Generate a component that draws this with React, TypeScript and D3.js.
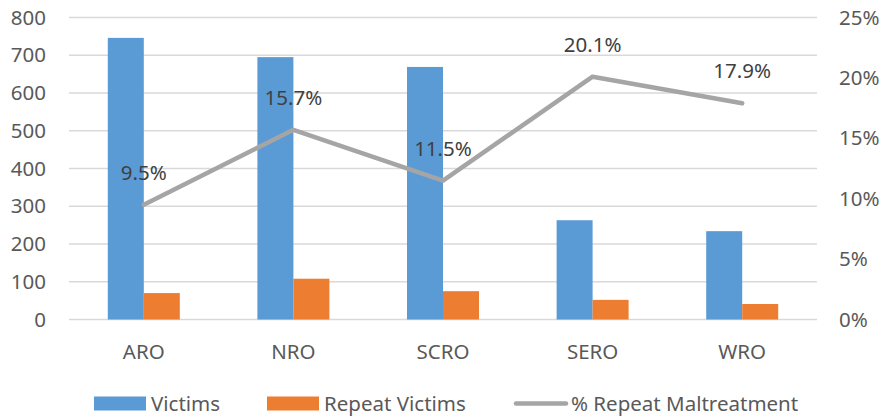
import * as React from "react";
import * as d3 from "d3";

const regions = ["ARO", "NRO", "SCRO", "SERO", "WRO"];
const victims = [746, 695, 669, 263, 234];
const repeatVictims = [70, 108, 75, 52, 41];
const repeatPct = [0.095, 0.157, 0.115, 0.201, 0.179];
const leftTicks = [0, 100, 200, 300, 400, 500, 600, 700, 800];
const rightTicks = [0, 0.05, 0.1, 0.15, 0.2, 0.25];

const W = 884;
const H = 417;
const FONT = "'Noto Sans', sans-serif";
const FS = "20.5px";

function drawChart(svgRef: React.RefObject<SVGSVGElement>) {
  const plot = { left: 69, right: 817, top: 17.5, bottom: 319.5 };

  const svg = d3.select(svgRef.current).attr("width", W).attr("height", H);
  svg.selectAll("*").remove();

  const x = d3.scaleBand().domain(regions).range([plot.left, plot.right]);
  const y = d3.scaleLinear().domain([0, 800]).range([plot.bottom, plot.top]);
  const y2 = d3.scaleLinear().domain([0, 0.25]).range([plot.bottom, plot.top]);
  const barW = 36;

  // gridlines
  svg.append("g")
    .selectAll("line")
    .data(leftTicks)
    .enter()
    .append("line")
    .attr("x1", plot.left)
    .attr("x2", plot.right)
    .attr("y1", (d) => y(d))
    .attr("y2", (d) => y(d))
    .attr("stroke", "#D9D9D9")
    .attr("stroke-width", 1.3);

  // left axis labels
  svg.append("g")
    .selectAll("text")
    .data(leftTicks)
    .enter()
    .append("text")
    .text((d) => d)
    .attr("x", 46)
    .attr("y", (d) => y(d))
    .attr("dy", "0.35em")
    .attr("text-anchor", "end")
    .attr("fill", "#595959")
    .style("font-family", FONT)
    .style("font-size", FS);

  // right axis labels
  svg.append("g")
    .selectAll("text")
    .data(rightTicks)
    .enter()
    .append("text")
    .text((d) => d3.format(".0%")(d))
    .attr("x", 839)
    .attr("y", (d) => y2(d))
    .attr("dy", "0.35em")
    .attr("text-anchor", "start")
    .attr("fill", "#595959")
    .style("font-family", FONT)
    .style("font-size", FS);

  // bars
  svg.append("g")
    .selectAll("rect")
    .data(regions)
    .enter()
    .append("rect")
    .attr("x", (d) => x(d)! + x.bandwidth() / 2 - barW)
    .attr("y", (d, i) => y(victims[i]))
    .attr("width", barW)
    .attr("height", (d, i) => plot.bottom - y(victims[i]))
    .attr("fill", "#5B9BD5");

  svg.append("g")
    .selectAll("rect")
    .data(regions)
    .enter()
    .append("rect")
    .attr("x", (d) => x(d)! + x.bandwidth() / 2)
    .attr("y", (d, i) => y(repeatVictims[i]))
    .attr("width", barW)
    .attr("height", (d, i) => plot.bottom - y(repeatVictims[i]))
    .attr("fill", "#ED7D31");

  // line
  const line = d3
    .line<number>()
    .x((d, i) => x(regions[i])! + x.bandwidth() / 2)
    .y((d) => y2(d));

  svg.append("path")
    .datum(repeatPct)
    .attr("d", line)
    .attr("fill", "none")
    .attr("stroke", "#A5A5A5")
    .attr("stroke-width", 4.5)
    .attr("stroke-linecap", "round")
    .attr("stroke-linejoin", "round");

  svg.append("g")
    .selectAll("text")
    .data(repeatPct)
    .enter()
    .append("text")
    .text((d) => d3.format(".1%")(d))
    .attr("x", (d, i) => x(regions[i])! + x.bandwidth() / 2)
    .attr("y", (d) => y2(d) - 32)
    .attr("dy", "0.35em")
    .attr("text-anchor", "middle")
    .attr("fill", "#404040")
    .style("font-family", FONT)
    .style("font-size", FS);

  // category labels
  svg.append("g")
    .selectAll("text")
    .data(regions)
    .enter()
    .append("text")
    .text((d) => d)
    .attr("x", (d) => x(d)! + x.bandwidth() / 2)
    .attr("y", 352)
    .attr("dy", "0.35em")
    .attr("text-anchor", "middle")
    .attr("fill", "#595959")
    .style("font-family", FONT)
    .style("font-size", FS);

  // legend
  const legend = svg.append("g").attr("transform", "translate(0, 403.5)");
  const items = [
    { label: "Victims", color: "#5B9BD5", x: 94, kind: "rect" },
    { label: "Repeat Victims", color: "#ED7D31", x: 267, kind: "rect" },
    { label: "% Repeat Maltreatment", color: "#A5A5A5", x: 514, kind: "line" },
  ];
  items.forEach((it) => {
    if (it.kind === "rect") {
      legend.append("rect")
        .attr("x", it.x)
        .attr("y", -7)
        .attr("width", 52)
        .attr("height", 14)
        .attr("fill", it.color);
    } else {
      legend.append("line")
        .attr("x1", it.x + 2)
        .attr("x2", it.x + 52)
        .attr("y1", 0)
        .attr("y2", 0)
        .attr("stroke", it.color)
        .attr("stroke-width", 4.5)
        .attr("stroke-linecap", "round");
    }
    legend.append("text")
      .text(it.label)
      .attr("x", it.x + (it.kind === "rect" ? 57 : 57))
      .attr("y", 0)
      .attr("dy", "0.35em")
      .attr("fill", "#595959")
      .style("font-family", FONT)
      .style("font-size", FS);
  });
}

const App = () => {
  const svgRef = React.useRef<SVGSVGElement>(null);

  React.useEffect(() => {
    drawChart(svgRef);
  }, [svgRef]);

  return (
    <div style={{ position: "absolute", left: 0, top: 0, background: "#fff" }}>
      <svg ref={svgRef} style={{ display: "block" }} />
    </div>
  );
};

export default App;
